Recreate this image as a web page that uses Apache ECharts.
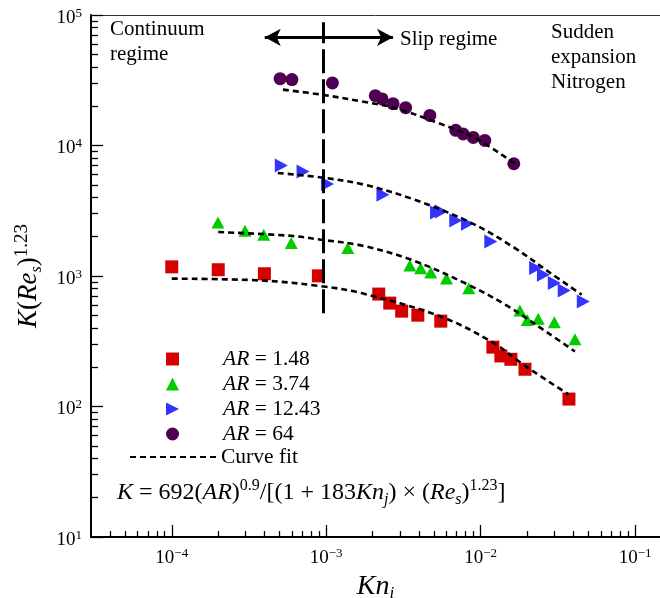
<!DOCTYPE html>
<html><head><meta charset="utf-8">
<script src="https://cdn.jsdelivr.net/npm/echarts@6/dist/echarts.min.js"></script>
<style>html,body{margin:0;padding:0;background:#fff}#main{width:660px;height:598px}</style>
</head><body><div id="main"></div>
<script>
// ---- data ----
const ar148Kn = [1.0e-4, 2.0e-4, 3.98e-4, 8.9e-4, 2.19e-3, 2.58e-3, 3.08e-3, 3.92e-3, 5.52e-3, 0.0120, 0.01352, 0.0157, 0.01937, 0.0373];
const ar148K  = [1175, 1117, 1040, 1003, 727, 620, 538, 501, 451, 285, 244, 230, 193, 114];
const ar374Kn = [1.99e-4, 2.98e-4, 3.94e-4, 5.94e-4, 1.38e-3, 3.48e-3, 4.09e-3, 4.75e-3, 6.01e-3, 8.38e-3, 0.01795, 0.02005, 0.0236, 0.030, 0.0408];
const ar374K  = [2572, 2222, 2070, 1787, 1636, 1204, 1149, 1064, 957, 807, 544, 461, 470, 443, 328];
const ar1243Kn = [5.12e-4, 7.08e-4, 1.02e-3, 2.33e-3, 5.18e-3, 5.57e-3, 6.90e-3, 8.22e-3, 0.01164, 0.0227, 0.0255, 0.030, 0.0348, 0.0462];
const ar1243K  = [7032, 6327, 5070, 4195, 3069, 3124, 2665, 2512, 1840, 1150, 1021, 883, 774, 637];
const ar64Kn = [5.03e-4, 6.0e-4, 1.097e-3, 2.08e-3, 2.30e-3, 2.71e-3, 3.27e-3, 4.69e-3, 6.90e-3, 7.71e-3, 8.96e-3, 0.01064, 0.0164];
const ar64K  = [32500, 31980, 30150, 24100, 22740, 20930, 19500, 17010, 13060, 12250, 11540, 10940, 7247];

const fit148Kn = [1e-4, 3.79e-4, 9.3e-4, 1.69e-3, 5.52e-3, 0.012, 0.0194, 0.037];
const fit148K  = [955, 924, 835, 740, 489, 309, 205, 124];
const fit374Kn = [2e-4, 5.87e-4, 9.28e-4, 1.69e-3, 3.56e-3, 8.32e-3, 0.0151, 0.0274, 0.0408];
const fit374K  = [2171, 2034, 1895, 1714, 1331, 857, 584, 365, 264];
const fit1243Kn = [4.86e-4, 9.28e-4, 1.77e-3, 3.74e-3, 8.73e-3, 0.01667, 0.0274, 0.0451];
const fit1243K  = [6152, 5691, 5003, 3840, 2545, 1637, 1083, 718];
const fit64Kn = [5.25e-4, 9.28e-4, 1.69e-3, 2.78e-3, 5.31e-3, 9.17e-3, 0.01667];
const fit64K  = [26790, 24540, 21790, 19400, 14870, 11420, 7247];

const seriesNames = ['AR = 1.48', 'AR = 3.74', 'AR = 12.43', 'AR = 64'];
const fitName = 'Curve fit';

// annotations
const regimeLineKn = 9.5e-4;
const regimeLineK = [519, 87900];
const arrowKn = [4.0e-4, 2.71e-3];
const arrowK = 67400;

// tick values
const xMajor = [1e-4, 1e-3, 1e-2, 1e-1];
const yMajor = [10, 100, 1000, 10000, 100000];
const mant = [2, 3, 4, 5, 6, 7, 8, 9];
const xMinor = [4e-5, 5e-5, 6e-5, 7e-5, 8e-5, 9e-5];
[1e-4, 1e-3, 1e-2].forEach(d => mant.forEach(m => xMinor.push(+(m * d).toPrecision(3))));
const yMinor = [];
[10, 100, 1000, 10000].forEach(d => mant.forEach(m => yMinor.push(m * d)));

const zip = (a, b) => a.map((v, i) => [v, b[i]]);
const FONT = "Liberation Serif";

function powLabel(v) {
  const e = Math.round(Math.log10(v));
  return '{b|10}{s|' + (e < 0 ? '\u2212' + (-e) : String(e)) + '}';
}
const tickRich = {
  b: {fontFamily: FONT, fontSize: 19, color: '#000', lineHeight: 22},
  s: {fontFamily: FONT, fontSize: 13, color: '#000', lineHeight: 12, verticalAlign: 'top'}
};

const chart = echarts.init(document.getElementById('main'), null, {renderer: 'canvas'});

const colors = ['#d40000', '#00cc00', '#3434ff', '#500050'];
const scatterData = [zip(ar148Kn, ar148K), zip(ar374Kn, ar374K), zip(ar1243Kn, ar1243K), zip(ar64Kn, ar64K)];
const symbols = ['rect', 'triangle', 'triangle', 'circle'];
const sizes = [13, [13, 12], [14, 13], 13];
const rots = [0, 0, -90, 0];
const fitData = [zip(fit148Kn, fit148K), zip(fit374Kn, fit374K), zip(fit1243Kn, fit1243K), zip(fit64Kn, fit64K)];

const series = [];
scatterData.forEach((d, i) => series.push({
  type: 'scatter', name: seriesNames[i], data: d, symbol: symbols[i], symbolSize: sizes[i],
  symbolRotate: rots[i], itemStyle: {color: colors[i], opacity: 1}, z: 3
}));
fitData.forEach(d => series.push({
  type: 'line', name: fitName, data: d, symbol: 'none', showSymbol: false, smooth: 0.35,
  itemStyle: {color: 'rgba(0,0,0,0)'},
  lineStyle: {color: '#000', width: 2.6, type: [6, 4]}, z: 4
}));
series.push({
  type: 'line', name: 'annot', data: [], symbol: 'none',
  markLine: {
    silent: true, animation: false, symbol: 'none', label: {show: false},
    data: [
      [{coord: [regimeLineKn, regimeLineK[0]], lineStyle: {color: '#000', width: 3, type: [24, 6]}},
       {coord: [regimeLineKn, regimeLineK[1]]}],
      [{coord: [arrowKn[0], arrowK], symbol: 'arrow', symbolSize: [13, 16], lineStyle: {color: '#000', width: 3, type: 'solid'}},
       {coord: [arrowKn[1], arrowK], symbol: 'arrow', symbolSize: [13, 16]}]
    ]
  }
});

const txt = {fontFamily: FONT, fontSize: 21, fill: '#000'};
const legendText = {fontFamily: FONT, fontSize: 21.5, color: '#000', lineHeight: 20};
const legendItems = seriesNames.map((n, i) => i === 2 ? {name: n, icon: 'path://M0,0L13,6.5L0,13Z'} : {name: n});
const option = {
  animation: false,
  backgroundColor: '#fff',
  grid: {left: 91, top: 15, right: 0, bottom: 61, containLabel: false, outerBoundsMode: 'none'},
  legend: [
    {
      orient: 'vertical', left: 161, top: 343, itemWidth: 13, itemHeight: 13, itemGap: 3,
      selectedMode: false,
      data: legendItems,
      formatter: n => '{sp|}{i|AR}' + n.slice(2),
      textStyle: Object.assign({rich: {
        sp: {width: 39, lineHeight: 20},
        i: {fontFamily: FONT, fontSize: 21.5, fontStyle: 'italic', color: '#000', lineHeight: 20}}}, legendText)
    },
    {
      orient: 'vertical', left: 124, top: 441, itemWidth: 86, itemHeight: 13,
      selectedMode: false,
      data: [{name: fitName, itemStyle: {color: 'rgba(0,0,0,0)', borderWidth: 0, opacity: 0}}],
      textStyle: legendText
    }
  ],
  xAxis: [
    {type: 'log', logBase: 10, min: 3e-5, max: 0.145, position: 'bottom',
     axisLine: {lineStyle: {color: '#000', width: 2}},
     axisTick: {inside: true, length: 12, customValues: xMajor, lineStyle: {color: '#000', width: 1.3}},
     axisLabel: {customValues: xMajor, formatter: powLabel, rich: tickRich, margin: 10},
     splitLine: {show: false}, minorTick: {show: false},
     name: '{i|Kn}{sub|i}', nameLocation: 'middle', nameGap: 15,
     nameTextStyle: {fontFamily: FONT, fontSize: 28, color: '#000',
       rich: {i: {fontFamily: FONT, fontSize: 28, fontStyle: 'italic', lineHeight: 32, color: '#000'},
              sub: {fontFamily: FONT, fontSize: 17, fontStyle: 'italic', lineHeight: 17, verticalAlign: 'bottom', color: '#000'}}}},
    {type: 'log', logBase: 10, min: 3e-5, max: 0.145, position: 'bottom',
     axisLine: {show: false},
     axisTick: {inside: true, length: 6, customValues: xMinor, lineStyle: {color: '#000', width: 1.3}},
     axisLabel: {show: false}, splitLine: {show: false}},
    {type: 'value', min: 0, max: 1, position: 'top',
     axisLine: {show: true, lineStyle: {color: '#333', width: 1}},
     axisTick: {show: false}, axisLabel: {show: false}, splitLine: {show: false}}
  ],
  yAxis: [
    {type: 'log', logBase: 10, min: 10, max: 100000, position: 'left',
     axisLine: {lineStyle: {color: '#000', width: 2}},
     axisTick: {inside: true, length: 12, customValues: yMajor, lineStyle: {color: '#000', width: 1.3}},
     axisLabel: {customValues: yMajor, formatter: powLabel, rich: tickRich, margin: 9, padding: [6, 0, 0, 0]},
     splitLine: {show: false},
     name: '{i|K}({i|Re}{sub|s}){sup|1.23}', nameLocation: 'middle', nameGap: 46,
     nameTextStyle: {fontFamily: FONT, fontSize: 27, color: '#000',
       rich: {i: {fontFamily: FONT, fontSize: 27, fontStyle: 'italic', lineHeight: 32, color: '#000'},
              sub: {fontFamily: FONT, fontSize: 16, fontStyle: 'italic', lineHeight: 16, verticalAlign: 'bottom', color: '#000'},
              sup: {fontFamily: FONT, fontSize: 19, lineHeight: 19, verticalAlign: 'top', color: '#000'}}}},
    {type: 'log', logBase: 10, min: 10, max: 100000, position: 'left',
     axisLine: {show: false},
     axisTick: {inside: true, length: 7, customValues: yMinor, lineStyle: {color: '#000', width: 1.3}},
     axisLabel: {show: false}, splitLine: {show: false}}
  ],
  graphic: [
    {type: 'text', left: 110, top: 17, style: Object.assign({text: 'Continuum\nregime', lineHeight: 25}, txt)},
    {type: 'text', left: 400, top: 27, style: Object.assign({text: 'Slip regime', lineHeight: 25}, txt)},
    {type: 'text', left: 551, top: 20, style: Object.assign({text: 'Sudden\nexpansion\nNitrogen', lineHeight: 25}, txt)},
    {type: 'text', left: 117, top: 478, style: Object.assign({
      text: '{i|K} = 692({i|AR}){sup|0.9}/[(1 + 183{i|Kn}{sub|j}) \u00d7 ({i|Re}{sub|s}){sup|1.23}]',
      lineHeight: 30, fontSize: 24,
      rich: {
        i: {fontFamily: FONT, fontSize: 24, fontStyle: 'italic', fill: '#000', lineHeight: 30},
        sup: {fontFamily: FONT, fontSize: 16, fill: '#000', lineHeight: 15, verticalAlign: 'top'},
        sub: {fontFamily: FONT, fontSize: 16, fontStyle: 'italic', fill: '#000', lineHeight: 15, verticalAlign: 'bottom'}
      }}, {fontFamily: FONT, fill: '#000'})}
  ],
  series: series
};
chart.setOption(option);
</script></body></html>
